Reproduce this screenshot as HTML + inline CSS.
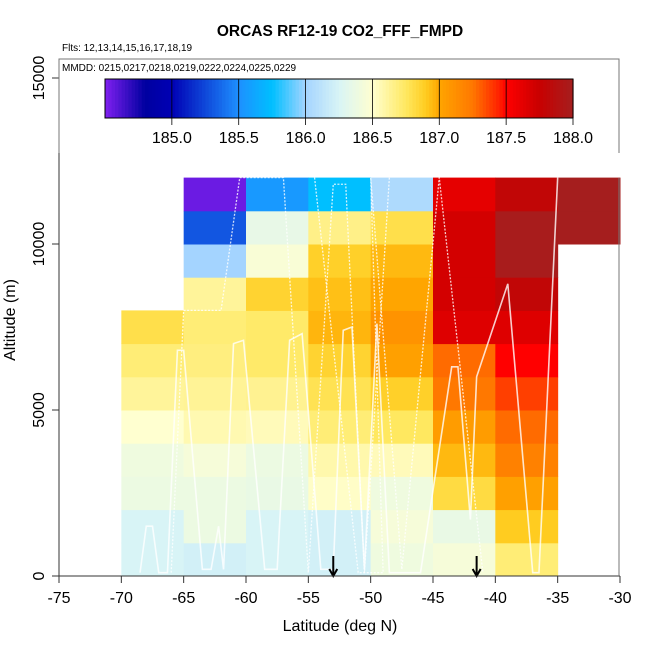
<!DOCTYPE html>
<html><head><meta charset="utf-8"><style>
html,body{margin:0;padding:0;background:#fff}
svg{display:block;font-family:"Liberation Sans",sans-serif}
</style></head><body>
<svg id="chart" width="650" height="650" viewBox="0 0 650 650"></svg>
<script>
const latBins=[-70,-65,-60,-55,-50,-45,-40,-35];
const altBins=[0,1000,2000,3000,4000,5000,6000,7000,8000,9000,10000,11000];
// values[col][row] (row = altitude bin), null = no data
const col0=[186.25,186.25,186.38,186.4,186.5,186.62,186.7,186.8,null,null,null,null];
const col1=[186.22,186.38,186.38,186.44,186.57,186.63,186.68,186.7,186.62,186.0,185.3,184.55];
const col2=[186.25,186.25,186.36,186.38,186.55,186.64,186.73,186.73,186.86,186.46,186.35,185.55];
const col3=[186.22,186.22,186.52,186.58,186.7,186.78,186.86,186.96,186.93,186.88,186.66,185.75];
const col4=[186.4,186.44,186.4,186.55,186.75,186.88,187.03,187.1,187.0,186.95,186.8,186.05];
const col5=[186.44,186.36,186.82,186.95,187.05,187.25,187.28,187.65,187.7,187.7,187.7,187.62];
const col6=[186.7,186.9,187.03,187.2,187.28,187.38,187.5,187.65,187.8,187.98,187.98,187.8];
const col7=[null,null,null,null,null,null,null,null,null,null,188.0,188.0];
const cells=[col0,col1,col2,col3,col4,col5,col6,col7];
const xTicks=[-75,-70,-65,-60,-55,-50,-45,-40,-35,-30];
const yTicks=[0,5000,10000,15000];
const cbTicks=[185.0,185.5,186.0,186.5,187.0,187.5,188.0];
const arrowLats=[-53,-41.5];
const track1=[[-68.5,100],[-68,1500],[-67.5,1500],[-67,100],[-66.3,100],[-65.5,6800],[-65,6800],[-63.5,200],[-62.8,200],[-62.2,1500],[-61.8,200],[-61,7000],[-60.2,7100],[-58.5,200],[-57.5,200],[-56.5,7100],[-55.5,7300],[-54,200],[-53,200],[-52.2,7400],[-51.5,7500],[-50.5,200],[-49.5,7600],[-48.5,100],[-46,100],[-43.5,6300],[-43,6300],[-42,1700],[-41.5,6000],[-39,8800],[-37,100],[-36.5,100],[-35,12000]];
const track2=[[-66,100],[-65,8000],[-62,8000],[-60.5,12000],[-57,12000],[-55,100],[-53,11800],[-52,11800],[-50.5,100],[-48.5,12000]];
const track3=[[-54.5,12000],[-51,100],[-49,100],[-50,12000],[-47.5,200],[-44.5,12000],[-41,100]];

const stops=[[184.5,[128,32,240]],[184.8,[0,0,160]],[185.0,[0,0,180]],[185.5,[30,144,255]],[185.75,[0,191,255]],[186.0,[164,212,255]],[186.25,[216,244,246]],[186.5,[255,255,208]],[186.75,[255,232,96]],[186.9,[255,204,32]],[187.0,[255,165,0]],[187.25,[255,120,0]],[187.45,[255,32,0]],[187.5,[255,0,0]],[187.75,[200,0,0]],[188.0,[165,30,30]]];
function col(v){
  if(v<=stops[0][0])return `rgb(${stops[0][1]})`;
  for(let i=1;i<stops.length;i++){
    if(v<=stops[i][0]){const a=stops[i-1],b=stops[i];const t=(v-a[0])/(b[0]-a[0]);
      const c=a[1].map((x,k)=>Math.round(x+(b[1][k]-x)*t));return `rgb(${c})`;}
  }
  return `rgb(${stops[stops.length-1][1]})`;
}
const X=lat=>59+(lat+75)*(561/45);
const Y=alt=>576-alt*(498/15000);
const CB=v=>105+(v-184.5)*(468/3.5);
const svg=document.getElementById('chart');
const NS='http://www.w3.org/2000/svg';
function mk(tag,attrs,parent){const e=document.createElementNS(NS,tag);for(const k in attrs)e.setAttribute(k,attrs[k]);(parent||svg).appendChild(e);return e;}

let t=mk('text',{x:340,y:36,'text-anchor':'middle','font-size':15.5,'font-weight':'bold'});t.textContent='ORCAS RF12-19 CO2_FFF_FMPD';


t=mk('text',{x:62,y:51,'font-size':10});t.textContent='Flts: 12,13,14,15,16,17,18,19';



const gc=mk('g',{});


cells.forEach((c,i)=>c.forEach((v,j)=>{
  if(v===null)return;
  const r=mk('rect',{x:X(latBins[i]),y:Y(altBins[j]+1000),width:X(latBins[i]+5)-X(latBins[i])+0.5,height:Y(altBins[j])-Y(altBins[j]+1000)+0.5,fill:col(v)},gc);
  
  
}));
[track1,track2,track3].forEach((tr,k)=>{
  const p=mk('polyline',{points:tr.map(q=>X(q[0])+','+Y(q[1])).join(' '),fill:'none',stroke:'#fff','stroke-width':k==0?1.6:1.3,'stroke-dasharray':k==0?'none':'2,1.5','stroke-opacity':0.8});
  
  
});
arrowLats.forEach(a=>{
  const g=mk('g',{stroke:'#000','stroke-width':2,fill:'none'});
  
  
  mk('line',{x1:X(a),y1:556,x2:X(a),y2:576},g);
  mk('polyline',{points:`${X(a)-4},569 ${X(a)},576 ${X(a)+4},569`},g);
});
const ax=mk('g',{stroke:'#333','stroke-width':1});


mk('line',{x1:59,y1:Y(0),x2:59,y2:Y(15000)},ax);
mk('line',{x1:59,y1:576,x2:620,y2:576},ax);
xTicks.forEach(v=>{
  mk('line',{x1:X(v),y1:576,x2:X(v),y2:583},ax);
  const l=mk('text',{x:X(v),y:603,'text-anchor':'middle','font-size':16,stroke:'none',fill:'#000'});l.textContent=v;
  
  
});
yTicks.forEach(v=>{
  mk('line',{x1:52,y1:Y(v),x2:59,y2:Y(v)},ax);
  const l=mk('text',{x:0,y:0,'text-anchor':'middle','font-size':16,stroke:'none',fill:'#000',transform:`translate(44,${Y(v)}) rotate(-90)`});l.textContent=v;
  
  
});
t=mk('text',{x:340,y:631,'text-anchor':'middle','font-size':16});t.textContent='Latitude (deg N)';


t=mk('text',{x:0,y:0,'text-anchor':'middle','font-size':16,transform:'translate(15,320) rotate(-90)'});t.textContent='Altitude (m)';


const lg=mk('g',{});


mk('polyline',{points:'59,153 59,59 619,59 619,153',fill:'#fff',stroke:'#777'},lg);
mk('line',{x1:619,y1:178,x2:619,y2:576,stroke:'#777'},lg);
t=mk('text',{x:62,y:71,'font-size':10},lg);t.textContent='MMDD: 0215,0217,0218,0219,0222,0224,0225,0229';


for(let v=184.5;v<188;v+=0.025){
  mk('rect',{x:CB(v),y:79,width:CB(v+0.025)-CB(v)+0.6,height:39,fill:col(v+0.0125)},lg);
}
mk('rect',{x:105,y:79,width:468,height:39,fill:'none',stroke:'#000'},lg);
cbTicks.forEach(v=>{
  mk('line',{x1:CB(v),y1:79,x2:CB(v),y2:125,stroke:'#000','stroke-width':0.8},lg);
  const l=mk('text',{x:CB(v),y:143,'text-anchor':'middle','font-size':16},lg);l.textContent=v.toFixed(1);
  
  
});
</script>
</body></html>
